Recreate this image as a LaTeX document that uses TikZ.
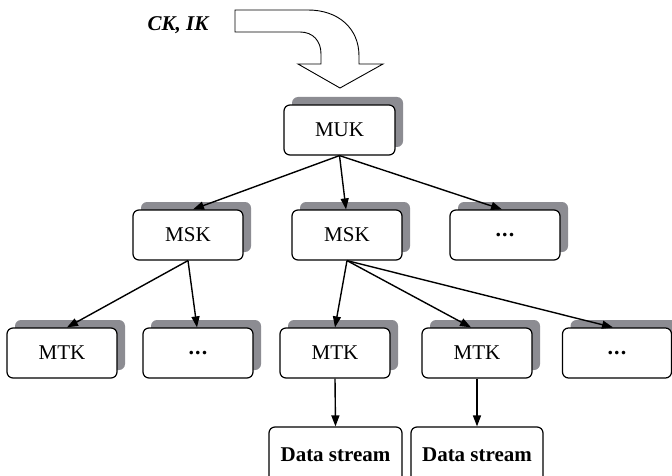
\documentclass[tikz,border=0pt]{standalone}
\usepackage{fontspec}
\setmainfont{Liberation Serif}
\usetikzlibrary{arrows.meta,shadows,calc}
\definecolor{shadowgray}{RGB}{140,140,146}
\newcommand{\mydots}{.\kern1.2pt.\kern1.2pt.}
\tikzset{
  box/.style={draw=black, line width=1.2pt, fill=white, rounded corners=6pt,
    minimum width=110pt, minimum height=50pt, inner sep=0pt,
    font=\fontsize{21}{25}\selectfont},
  sbox/.style={box, copy shadow={shadow xshift=8pt, shadow yshift=8pt, fill=shadowgray, draw=none}},
  dotbox/.style={sbox, font=\fontsize{22}{25}\selectfont\bfseries, text depth=-2pt},
  dbox/.style={box, minimum width=133pt, minimum height=56pt, font=\fontsize{21}{25}\selectfont\bfseries},
  conn/.style={line width=1.4pt, -{Triangle[length=11pt,width=8pt]}},
}
\begin{document}
\begin{tikzpicture}[x=1pt,y=-1pt]
\clip (0,0) rectangle (672,476);
\fill[white] (0,0) rectangle (672,476);
% big bent arrow
\draw[line width=0.9pt, fill=white]
  (235,10) -- (308,10) .. controls (338,10) and (359,28) .. (359,56) -- (359,64)
  -- (383,64) -- (340,88) -- (298,64) -- (321,64) -- (321,54)
  .. controls (321,41) and (313,32) .. (300,32) -- (235,32) -- cycle;
\node[font=\fontsize{21}{25}\selectfont\bfseries\itshape] (ck) at (178,25) {CK, IK};
% nodes
\node[sbox, minimum width=111pt] (MUK) at (339.5,130) {MUK};
\node[sbox] (MSK1) at (188,235) {MSK};
\node[sbox] (MSK2) at (347,235) {MSK};
\node[dotbox] (MSK3) at (505,235) {\mydots};
\node[sbox] (MTK1) at (62,353) {MTK};
\node[dotbox] (MTK2) at (198,353) {\mydots};
\node[sbox] (MTK3) at (335,353) {MTK};
\node[sbox] (MTK4) at (477,353) {MTK};
\node[dotbox, minimum width=109pt] (MTK5) at (617,353) {\mydots};
\node[dbox] (D1) at (335.5,455) {Data stream};
\node[dbox, minimum width=132pt] (D2) at (477,455) {Data stream};
% connectors
\draw[conn] (MUK.south) -- ($(MSK1.north)+(5,0)$);
\draw[conn] (MUK.south) -- ($(MSK2.north)+(-1,0)$);
\draw[conn] (MUK.south) -- ($(MSK3.north)+(-3,0)$);
\draw[conn] (MSK1.south) -- ($(MTK1.north)+(5,0)$);
\draw[conn] (MSK1.south) -- ($(MTK2.north)+(-1,0)$);
\draw[conn] (MSK2.south) -- (MTK3.north);
\draw[conn] (MSK2.south) -- ($(MTK4.north)+(-6,0)$);
\draw[conn] (MSK2.south) -- ($(MTK5.north)+(-4,0)$);
\draw[conn] (MTK3.south) -- (D1.north);
\draw[conn] (MTK4.south) -- (D2.north);
\end{tikzpicture}
\end{document}
